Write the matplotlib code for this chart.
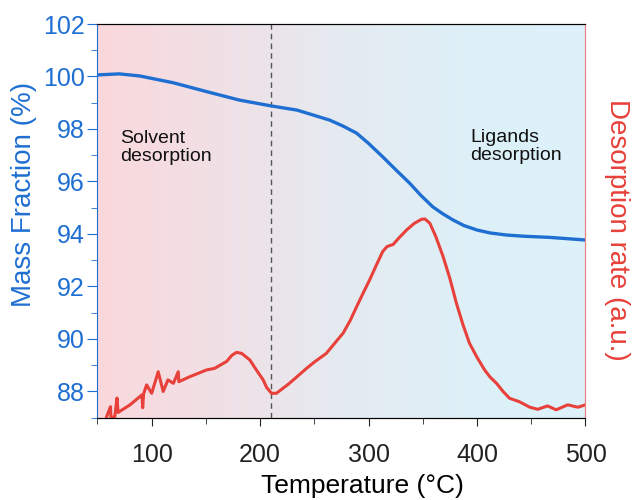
import numpy as np
import matplotlib
matplotlib.use('Agg')
import matplotlib.pyplot as plt
from matplotlib.colors import LinearSegmentedColormap
from matplotlib.ticker import MultipleLocator

plt.rcParams['font.family'] = ['Liberation Sans', 'DejaVu Sans']

# mass fraction (TGA) curve
temp_mass = [50, 70, 89, 120, 151, 181, 210, 234, 264, 276, 289, 300, 313, 325, 338, 348, 359, 368, 378,
             388, 400, 412, 427, 445, 467, 500]
mass = [100.06, 100.1, 100.02, 99.76, 99.42, 99.1, 98.88, 98.72, 98.34, 98.12, 97.84, 97.45, 96.94, 96.45,
        95.93, 95.48, 95.04, 94.78, 94.53, 94.32, 94.15, 94.04, 93.96, 93.91, 93.87, 93.77]

# desorption rate (DTG) curve, drawn in left-axis units
temp_rate = [58.5, 62, 62.5, 66, 68, 69, 80, 91, 91.7, 92.5, 95.3, 100, 106, 110.6, 115, 120, 124.5, 125,
             135, 150.6, 158, 169, 174, 178.3, 183, 190.5, 196, 202.8, 206, 210.5, 215, 227, 242.8, 250,
             261, 268, 276.5, 283, 289, 295, 301, 307, 313, 317, 322.6, 328, 335, 342, 348.8, 352, 356.5,
             362, 368.7, 375, 381, 387, 393, 400, 407, 412, 418, 424, 430, 439, 448.6, 456, 465, 473,
             483.6, 493, 500]
rate = [87.04, 87.42, 87.0, 87.04, 87.75, 87.2, 87.49, 87.87, 87.38, 87.9, 88.25, 87.93, 88.75, 88.0, 88.44,
        88.31, 88.75, 88.37, 88.56, 88.82, 88.88, 89.14, 89.38, 89.49, 89.45, 89.2, 88.85, 88.44, 88.15,
        87.93, 87.93, 88.31, 88.88, 89.12, 89.45, 89.8, 90.22, 90.7, 91.23, 91.75, 92.25, 92.8, 93.33,
        93.52, 93.6, 93.85, 94.15, 94.4, 94.56, 94.57, 94.41, 93.9, 93.14, 92.3, 91.36, 90.55, 89.84,
        89.3, 88.82, 88.55, 88.31, 88.0, 87.74, 87.61, 87.4, 87.32, 87.45, 87.3, 87.49, 87.4, 87.49]

blue = '#1f6fd2'
red = '#e8403a'

fig = plt.figure(figsize=(6.35, 5), dpi=100)
ax = fig.add_axes([0.1535, 0.1646, 0.7685, 0.7874])
ax.set_xlim(50, 500)
ax.set_ylim(87, 102)

# background gradient pink -> grey -> light blue
cmap = LinearSegmentedColormap.from_list('bg', [(0, '#fad8dc'), (0.35, '#ece4ea'), (0.5, '#e4ebf1'),
                                                (0.8, '#ddf0f8'), (1, '#dcf2fa')])
grad = np.linspace(0, 1, 256).reshape(1, -1)
ax.imshow(grad, cmap=cmap, aspect='auto', extent=[50, 500, 87, 102], zorder=0)

ax.axvline(210, color='#555555', ls=(0, (4, 3)), lw=1, zorder=1)
ax.plot(temp_mass, mass, color=blue, lw=2.4, zorder=3)
ax.plot(temp_rate, rate, color=red, lw=2.2, zorder=3)

ax.yaxis.set_major_locator(MultipleLocator(2))
ax.yaxis.set_minor_locator(MultipleLocator(1))
ax.xaxis.set_major_locator(MultipleLocator(100))
ax.xaxis.set_minor_locator(MultipleLocator(50))
ax.tick_params(axis='y', which='both', colors=blue, labelsize=18, direction='out', pad=2)
ax.tick_params(axis='y', which='major', length=7)
ax.tick_params(axis='y', which='minor', length=4)
ax.tick_params(axis='x', which='both', colors='#222222', labelsize=18, direction='out')
ax.tick_params(axis='x', which='major', length=6, pad=12)
ax.tick_params(axis='x', which='minor', length=4)
ax.spines['left'].set_color(blue)
ax.spines['right'].set_color('#ee8080')
ax.spines['top'].set_color('#222222')
ax.spines['bottom'].set_color('#333333')

ax.set_ylabel('Mass Fraction (%)', color=blue, fontsize=20, va='center')
ax.yaxis.set_label_coords(-0.151, 0.566)
ax.set_xlabel('Temperature (°C)', fontsize=19)
ax.xaxis.set_label_coords(0.542, -0.142)

ax2 = ax.twinx()
ax2.set_ylim(87, 102)
ax2.set_yticks([])
ax2.spines['right'].set_color('#ee8080')
ax2.spines['left'].set_visible(False)
ax2.set_ylabel('Desorption rate (a.u.)', color=red, fontsize=20, rotation=270, va='center')
ax2.yaxis.set_label_coords(1.064, 0.477)

ax.text(70.5, 97.95, 'Solvent\ndesorption', fontsize=14, color='#111111', linespacing=1.05, va='top')
ax.text(393.5, 98.0, 'Ligands\ndesorption', fontsize=14, color='#111111', linespacing=1.05, va='top')

plt.savefig('out.png', dpi=100)
